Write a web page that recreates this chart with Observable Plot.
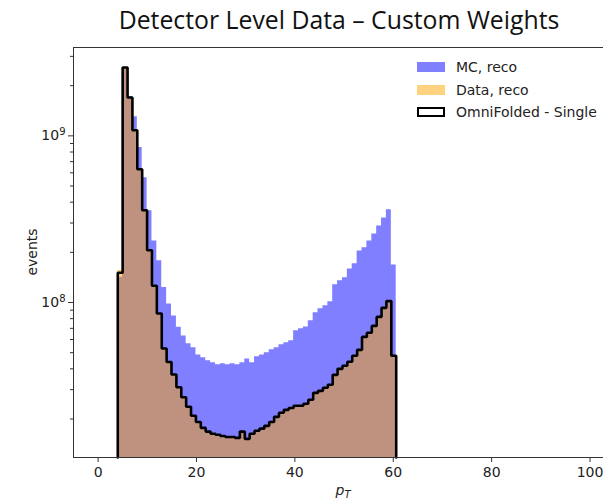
<!DOCTYPE html>
<html>
<head>
<meta charset="utf-8">
<script src="https://cdn.jsdelivr.net/npm/d3@7"></script>
<script src="https://cdn.jsdelivr.net/npm/@observablehq/plot@0.6"></script>
<style>
  html, body { margin: 0; padding: 0; background: #fff; overflow: hidden; }
  #wrap { position: relative; width: 603px; height: 502px; }
  #title { height: 40px; box-sizing: border-box; padding-left: 75px; text-align: center;
           font-family: "Open Sans", sans-serif; font-size: 24.8px; line-height: 38px; color: #111; white-space: nowrap; }
  #legend { position: absolute; left: 417px; top: 56px; font-family: "DejaVu Sans", sans-serif; font-size: 14px; color: #222; }
  .row { display: flex; align-items: center; height: 22.5px; }
  .patch { width: 28px; height: 10px; margin-right: 11px; box-sizing: border-box; }
</style>
</head>
<body>
<div id="wrap">
  <div id="title"></div>
  <div id="chart"></div>
  <div id="legend"></div>
</div>
<script>
// ---- data ----
const titleText = "Detector Level Data – Custom Weights";
const xLabelMain = "p";
const xLabelSub = "T";
const yLabel = "events";

// bin edges of pT (58 edges, 57 bins)
const binEdges = [4.00, 4.99, 5.99, 6.98, 7.97, 8.96, 9.96, 10.95, 11.94, 12.94,
  13.93, 14.92, 15.92, 16.91, 17.90, 18.89, 19.89, 20.88, 21.87, 22.87,
  23.86, 24.85, 25.85, 26.84, 27.83, 28.82, 29.82, 30.81, 31.80, 32.80,
  33.79, 34.78, 35.78, 36.77, 37.76, 38.75, 39.75, 40.74, 41.73, 42.73,
  43.72, 44.71, 45.71, 46.70, 47.69, 48.68, 49.68, 50.67, 51.66, 52.66,
  53.65, 54.64, 55.64, 56.63, 57.62, 58.61, 59.61, 60.60];

// MC, reco
const mcReco = [1.42e8, 2.55e9, 1.72e9, 1.30e9, 8.5e8, 5.6e8, 3.55e8, 2.34e8, 1.78e8, 1.23e8,
  9.8e7, 8.3e7, 7.1e7, 6.3e7, 5.65e7, 5.35e7, 4.85e7, 4.66e7, 4.47e7, 4.35e7,
  4.23e7, 4.29e7, 4.23e7, 4.29e7, 4.23e7, 4.35e7, 4.59e7, 4.35e7, 4.72e7, 4.85e7,
  4.99e7, 5.20e7, 5.35e7, 5.57e7, 5.73e7, 5.89e7, 6.76e7, 6.95e7, 7.14e7, 7.76e7,
  8.67e7, 9.16e7, 9.55e7, 1.01e8, 1.28e8, 1.35e8, 1.41e8, 1.59e8, 1.71e8, 2.04e8,
  2.13e8, 2.34e8, 2.58e8, 2.88e8, 3.22e8, 3.60e8, 1.68e8];

// Data, reco
const dataReco = [1.56e8, 2.57e9, 1.70e9, 1.08e9, 6.3e8, 3.58e8, 2.06e8, 1.26e8, 8.6e7, 5.3e7,
  4.4e7, 3.7e7, 3.1e7, 2.7e7, 2.37e7, 2.09e7, 1.92e7, 1.77e7, 1.68e7, 1.63e7,
  1.61e7, 1.58e7, 1.56e7, 1.56e7, 1.54e7, 1.68e7, 1.52e7, 1.63e7, 1.70e7, 1.75e7,
  1.82e7, 1.92e7, 2.06e7, 2.18e7, 2.27e7, 2.33e7, 2.40e7, 2.40e7, 2.49e7, 2.61e7,
  2.87e7, 2.95e7, 3.08e7, 3.21e7, 3.70e7, 4.00e7, 4.17e7, 4.41e7, 4.79e7, 5.20e7,
  6.22e7, 6.58e7, 7.24e7, 8.20e7, 9.29e7, 1.02e8, 4.79e7];

// OmniFolded - Single
const omniSingle = [1.51e8, 2.57e9, 1.70e9, 1.08e9, 6.3e8, 3.58e8, 2.06e8, 1.26e8, 8.6e7, 5.3e7,
  4.4e7, 3.7e7, 3.1e7, 2.7e7, 2.37e7, 2.09e7, 1.92e7, 1.77e7, 1.68e7, 1.63e7,
  1.61e7, 1.58e7, 1.56e7, 1.56e7, 1.54e7, 1.68e7, 1.52e7, 1.63e7, 1.70e7, 1.75e7,
  1.82e7, 1.92e7, 2.06e7, 2.18e7, 2.27e7, 2.33e7, 2.40e7, 2.40e7, 2.47e7, 2.61e7,
  2.87e7, 2.95e7, 3.08e7, 3.21e7, 3.68e7, 4.00e7, 4.17e7, 4.41e7, 4.79e7, 5.20e7,
  6.22e7, 6.58e7, 7.24e7, 8.20e7, 9.29e7, 1.02e8, 4.79e7];

const xTicks = [0, 20, 40, 60, 80, 100];
const yMajorTicks = [1e8, 1e9];
const yMinorTicks = [2e7, 3e7, 4e7, 5e7, 6e7, 7e7, 8e7, 9e7, 2e8, 3e8, 4e8, 5e8, 6e8, 7e8, 8e8, 9e8, 2e9, 3e9];
const legendLabels = ["MC, reco", "Data, reco", "OmniFolded - Single"];

// ---- layout ----
const xDomain = [-5, 102.74];
const yDomain = [1.175e7, 3.39e9];
const yBottom = yDomain[0];

function stepArea(vals) {
  const pts = vals.map((v, i) => ({x: binEdges[i], y: v}));
  pts.push({x: binEdges[binEdges.length - 1], y: vals[vals.length - 1]});
  return pts;
}
function stepOutline(vals) {
  const pts = [{x: binEdges[0], y: yBottom}];
  vals.forEach((v, i) => pts.push({x: binEdges[i], y: v}));
  pts.push({x: binEdges[binEdges.length - 1], y: yBottom});
  return pts;
}
const fmtPow = d => "10^" + Math.round(Math.log10(d));

document.getElementById("title").textContent = titleText;

const axisColor = "#333";
const chart = Plot.plot({
  width: 603,
  height: 462,
  marginLeft: 73,
  marginRight: 0,
  marginTop: 7,
  marginBottom: 45,
  style: {fontFamily: "DejaVu Sans, sans-serif", fontSize: "14px", color: "#222", background: "#fff"},
  x: {domain: xDomain},
  y: {type: "log", domain: yDomain},
  marks: [
    Plot.areaY(stepArea(mcReco), {x: "x", y1: () => yBottom, y2: "y", curve: "step-after", fill: "#0000ff", fillOpacity: 0.5}),
    Plot.areaY(stepArea(dataReco), {x: "x", y1: () => yBottom, y2: "y", curve: "step-after", fill: "#ffa500", fillOpacity: 0.5}),
    Plot.line(stepOutline(omniSingle), {x: "x", y: "y", curve: "step-after", stroke: "#000", strokeWidth: 2.6, strokeLinejoin: "miter"}),
    Plot.ruleX([xDomain[0]], {stroke: axisColor, strokeWidth: 1}),
    Plot.ruleY([yDomain[0]], {stroke: axisColor, strokeWidth: 1}),
    Plot.ruleY([yDomain[1]], {stroke: axisColor, strokeWidth: 1}),
    Plot.axisX(xTicks, {tickSize: 5, tickPadding: 5, label: null, stroke: axisColor, fontSize: 14}),
    Plot.axisY(yMajorTicks, {tickSize: 5, tickPadding: 3, label: null, tickFormat: fmtPow, stroke: axisColor, fontSize: 14}),
    Plot.axisY(yMinorTicks, {tickSize: 3, label: null, tickFormat: () => "", stroke: axisColor})
  ]
});
document.getElementById("chart").appendChild(chart);

const svg = d3.select(chart);
// turn "10^k" tick labels into 10 with a superscript exponent
svg.selectAll("text").each(function() {
  const t = this.textContent;
  const m = /^10\^(\d+)$/.exec(t);
  if (!m) return;
  const el = d3.select(this);
  el.text("");
  el.append("tspan").text("10");
  el.append("tspan").attr("font-size", 10).attr("dy", "-0.55em").text(m[1]);
});

const xl = svg.append("text")
  .attr("x", 343).attr("y", 455)
  .attr("text-anchor", "middle")
  .attr("font-family", "DejaVu Sans, sans-serif")
  .attr("font-size", 14).attr("font-style", "italic").attr("fill", "#222");
xl.append("tspan").text(xLabelMain);
xl.append("tspan").attr("font-size", 10).attr("dy", 3).text(xLabelSub);
svg.append("text")
  .attr("transform", "translate(37,212) rotate(-90)")
  .attr("text-anchor", "middle")
  .attr("font-family", "DejaVu Sans, sans-serif")
  .attr("font-size", 14).attr("fill", "#222")
  .text(yLabel);

// legend
const legendStyles = [
  {background: "rgba(0,0,255,0.5)", border: "none"},
  {background: "rgba(255,165,0,0.5)", border: "none"},
  {background: "#fff", border: "2.5px solid #000"}
];
const leg = d3.select("#legend");
legendLabels.forEach((lab, i) => {
  const row = leg.append("div").attr("class", "row");
  row.append("div").attr("class", "patch")
    .style("background", legendStyles[i].background)
    .style("border", legendStyles[i].border);
  row.append("span").text(lab);
});
</script>
</body>
</html>
